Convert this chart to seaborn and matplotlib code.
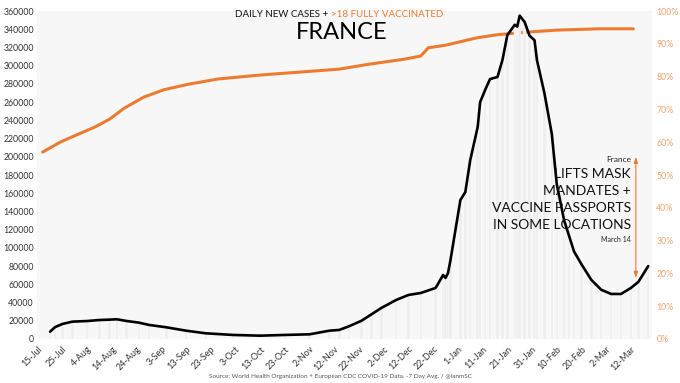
import numpy as np
import pandas as pd
import matplotlib
matplotlib.use("Agg")
from matplotlib import pyplot as plt
from matplotlib.ticker import FuncFormatter, MultipleLocator
import seaborn as sns

# 7 day average of new cases
case_dates = ["2021-07-20", "2021-07-22", "2021-07-25", "2021-07-29", "2021-08-04", "2021-08-09",
              "2021-08-13", "2021-08-16", "2021-08-20", "2021-08-25", "2021-08-29", "2021-09-05",
              "2021-09-13", "2021-09-21", "2021-10-02", "2021-10-13", "2021-10-23", "2021-11-02",
              "2021-11-10", "2021-11-14", "2021-11-18", "2021-11-23", "2021-11-27", "2021-12-01",
              "2021-12-07", "2021-12-12", "2021-12-17", "2021-12-23", "2021-12-26", "2021-12-27",
              "2021-12-28", "2021-12-29", "2022-01-02", "2022-01-04", "2022-01-06", "2022-01-09",
              "2022-01-10", "2022-01-12", "2022-01-14", "2022-01-17", "2022-01-19", "2022-01-21",
              "2022-01-24", "2022-01-25", "2022-01-26", "2022-01-28", "2022-01-30", "2022-02-01",
              "2022-02-02", "2022-02-05", "2022-02-08", "2022-02-10", "2022-02-13", "2022-02-15",
              "2022-02-17", "2022-02-20", "2022-02-24", "2022-02-28", "2022-03-04", "2022-03-08",
              "2022-03-12", "2022-03-15", "2022-03-19"]
case_values = [8000, 13000, 16500, 19000, 19700, 20800,
               21200, 21600, 19700, 17900, 15400, 12800,
               9100, 6200, 4400, 3600, 4400, 5100,
               9100, 9900, 14000, 20000, 27000, 34000,
               42800, 48300, 50500, 56000, 70200, 67000,
               72400, 86700, 152500, 161300, 196500, 232700,
               260100, 273300, 285400, 287600, 306000, 333600,
               345000, 343000, 355000, 348000, 333000, 328000,
               306000, 270000, 225000, 170000, 130000, 113000,
               96000, 82000, 64800, 54000, 49400, 49400,
               56000, 62600, 80000]

# share of adults (>18) fully vaccinated, %
vax_dates = ["2021-07-17", "2021-07-24", "2021-07-30", "2021-08-07", "2021-08-13", "2021-08-19",
             "2021-08-27", "2021-09-04", "2021-09-14", "2021-09-26", "2021-10-13", "2021-10-29",
             "2021-11-14", "2021-11-26", "2021-12-10", "2021-12-17", "2021-12-20", "2021-12-27",
             "2022-01-05", "2022-01-09", "2022-01-17", "2022-01-29", "2022-02-10", "2022-02-27",
             "2022-03-13"]
vax_values = [57, 60, 62, 64.6, 67, 70.4,
              73.8, 76, 77.7, 79.3, 80.5, 81.4,
              82.3, 83.8, 85.3, 86.3, 88.8, 89.6,
              91.2, 91.9, 92.8, 93.6, 94.2, 94.6,
              94.6]

event_date = "2022-03-14"
event_lines = ["LIFTS MASK", "MANDATES +", "VACCINE PASSPORTS", "IN SOME LOCATIONS"]

cases = pd.DataFrame({"date": pd.to_datetime(case_dates), "cases": case_values})
vax = pd.DataFrame({"date": pd.to_datetime(vax_dates), "pct": vax_values})

sns.set_style("white")
plt.rcParams['font.family'] = ['Lato', 'DejaVu Sans']

ORANGE = "#ec7b30"
fig = plt.figure(figsize=(6.8, 3.83), dpi=100)
ax = fig.add_axes([0.054, 0.115, 0.905, 0.856])

# faint daily bars behind everything
ax.bar(cases["date"], cases["cases"], width=1.0, color="#ededed", edgecolor="white", linewidth=0.3, zorder=1)
sns.lineplot(data=cases, x="date", y="cases", ax=ax, color="black", linewidth=1.9, zorder=4)

ax2 = ax.twinx()
sns.lineplot(data=vax, x="date", y="pct", ax=ax2, color=ORANGE, linewidth=2.2, zorder=3)

ax.set_ylim(0, 360000)
ax2.set_ylim(0, 100)
ax.set_xlim(pd.Timestamp("2021-07-14 14:00"), pd.Timestamp("2022-03-20 14:00"))
ax.yaxis.set_major_locator(MultipleLocator(20000))
ax.yaxis.set_major_formatter(FuncFormatter(lambda v, p: f"{int(v)}"))
ax2.yaxis.set_major_locator(MultipleLocator(10))
ax2.yaxis.set_major_formatter(FuncFormatter(lambda v, p: f"{int(v)}%"))

ticks = pd.date_range("2021-07-15", "2022-03-12", freq="10D")
ax.set_xticks(ticks)
ax.set_xticklabels([f"{d.day}-{d.strftime('%b')}" for d in ticks], rotation=45, ha="right",
                   rotation_mode="anchor", fontsize=6.5, color="#333333")
ax.tick_params(axis="x", length=0, pad=4)
ax.tick_params(axis="y", length=0, pad=2, labelsize=6.3, labelcolor="#333333")
ax2.tick_params(axis="y", length=0, pad=3, labelsize=6.3, labelcolor="#f2a36e")
for a in (ax, ax2):
    a.set_xlabel("")
    a.set_ylabel("")
    for s in a.spines.values():
        s.set_visible(False)
ax.set_zorder(ax2.get_zorder() + 1)
ax.patch.set_visible(False)
ax2.patch.set_visible(True)
ax2.set_facecolor("#f7f7f7")

# annotation for the event
ev = pd.Timestamp(event_date)
ax.annotate("", xy=(ev, 64000), xytext=(ev, 203000),
            arrowprops=dict(arrowstyle="<|-|>,head_length=0.35,head_width=0.12", color=ORANGE, lw=0.8),
            zorder=5)
tx = ev - pd.Timedelta(days=2)
ax.text(tx, 197500, "France", ha="right", va="center", fontsize=6, color="#222222")
for i, line in enumerate(event_lines):
    ax.text(tx, 181000 - i * 18500, line, ha="right", va="center", fontsize=10, color="#111111", zorder=6)
ax.text(tx, 109500, "March 14", ha="right", va="center", fontsize=5, color="#222222")

# titles
fig.text(0.487, 0.963, "DAILY NEW CASES + ", ha="right", va="center", fontsize=7, color="#111111")
fig.text(0.487, 0.963, ">18 FULLY VACCINATED", ha="left", va="center", fontsize=7, color=ORANGE)
fig.text(0.502, 0.915, "FRANCE", ha="center", va="center", fontsize=17, color="black")
fig.text(0.5, 0.018, "Source: World Health Organization + European CDC COVID-19 Data. -7 Day Avg. / @ianmSC",
         ha="center", va="center", fontsize=4.6, color="#555555")

fig.savefig("out.png", dpi=100)
